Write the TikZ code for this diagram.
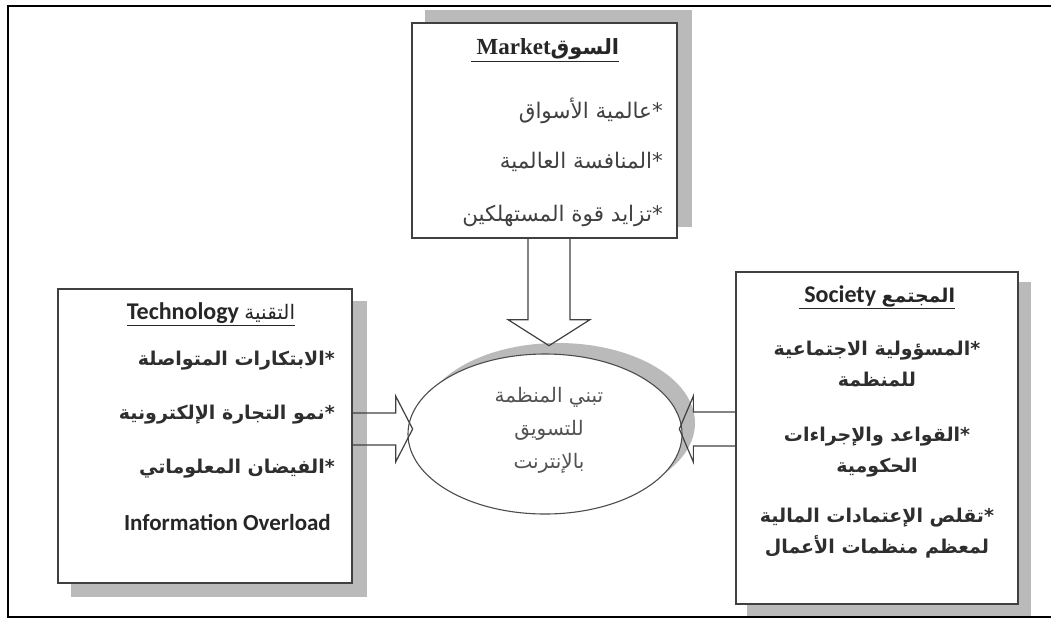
\documentclass[tikz,border=0pt]{standalone}
\usepackage{fontspec}
\usetikzlibrary{calc,backgrounds,shapes.geometric}
\TeXXeTstate=1
\newfontfamily\arfont[Script=Arabic]{DejaVu Sans}
\newfontfamily\calib{Carlito}
\newfontfamily\tms{Liberation Serif}
\begin{document}
\begin{tikzpicture}[x=1pt,y=-1pt,
  box/.style={draw=black!75, line width=1.3pt, fill=white, inner sep=0pt},
  shad/.style={fill=black!27, draw=none},
  barrow/.style={draw=black!75, line width=1.2pt, line join=miter},
  artxt/.style={font=\arfont\fontsize{21.5}{31}\selectfont, text=black!75, inner sep=0pt, align=center},
  arbold/.style={font=\arfont\bfseries\fontsize{19}{31}\selectfont, text=black!82, inner sep=0pt, align=center},
  eltxt/.style={font=\arfont\fontsize{20}{33}\selectfont, text=black!68, inner sep=0pt, align=center},
  titletxt/.style={inner sep=0pt, text=black!85}
]
\useasboundingbox (0,0) rectangle (1051,619);
% outer frame
\draw[line width=2pt] (1051,6) -- (8,6) -- (8,617) -- (1051,617);

% boxes
\node[box, minimum width=265, minimum height=215] (mkt) at (544.5,130.5) {};
\node[box, minimum width=294, minimum height=294] (tech) at (205,436) {};
\node[box, minimum width=282, minimum height=332] (soc) at (877,438) {};
\node[box, draw=black!70, line width=1.1pt, ellipse, minimum width=274, minimum height=160] (org) at (545,434) {};

% shadows
\begin{scope}[on background layer]
  \fill[shad] ($(mkt.north west)+(14,-12)$) rectangle ($(mkt.south east)+(14,-12)$);
  \fill[shad] ($(tech.north west)+(14,13)$) rectangle ($(tech.south east)+(14,13)$);
  \fill[shad] ($(soc.north west)+(12,11)$) rectangle ($(soc.south east)+(12,11)$);
  \fill[shad] ($(org.center)+(13,-11)$) ellipse [x radius=137, y radius=80];
\end{scope}

% block arrows
\coordinate (dA) at ($(mkt.south)+(4.5,0)$);
\draw[barrow] ($(dA)+(-21,0)$) -- ($(dA)+(-21,81)$) -- ($(dA)+(-41,81)$) -- ($(dA)+(0,107)$)
  -- ($(dA)+(41,81)$) -- ($(dA)+(21,81)$) -- ($(dA)+(21,0)$);
\coordinate (lA) at ($(tech.east)+(0,-7)$);
\draw[barrow] ($(lA)+(0,-16)$) -- ($(lA)+(43,-16)$) -- ($(lA)+(43,-33)$) -- ($(lA)+(60,0)$)
  -- ($(lA)+(43,33)$) -- ($(lA)+(43,16)$) -- ($(lA)+(0,16)$);
\coordinate (rA) at ($(soc.west)+(0,-9)$);
\draw[barrow] ($(rA)+(0,-17)$) -- ($(rA)+(-42,-17)$) -- ($(rA)+(-42,-33)$) -- ($(rA)+(-56,0)$)
  -- ($(rA)+(-42,33)$) -- ($(rA)+(-42,17)$) -- ($(rA)+(0,17)$);

% Market text
\node[titletxt] (mt) at (545,50) {\underline{\hbox{\tms\bfseries\fontsize{23}{26}\selectfont\ Market\arfont\fontsize{21}{26}\selectfont\beginR السوق\endR}}};
\node[artxt, anchor=east] (m1) at (663,111) {\beginR *عالمية الأسواق\endR};
\node[artxt, anchor=east] (m2) at (663,162) {\beginR *المنافسة العالمية\endR};
\node[artxt, anchor=east] (m3) at (663,216) {\beginR *تزايد قوة المستهلكين\endR};

% Technology text
\node[titletxt] (tt) at (211,314) {\underline{\hbox{\calib\bfseries\fontsize{24}{26}\selectfont Technology \arfont\mdseries\fontsize{20}{26}\selectfont\beginR التقنية\endR}}};
\node[arbold, anchor=east] (t1) at (335,361) {\beginR *الابتكارات المتواصلة\endR};
\node[arbold, anchor=east] (t2) at (335,415) {\beginR *نمو التجارة الإلكترونية\endR};
\node[arbold, anchor=east] (t3) at (335,469) {\beginR *الفيضان المعلوماتي\endR};
\node[titletxt, font=\calib\bfseries\fontsize{23}{26}\selectfont, anchor=east] (t4) at (331,522) {Information Overload};

% Society text
\node[titletxt] (st) at (877,297) {\underline{\hbox{\calib\bfseries\fontsize{24}{26}\selectfont\ Society \arfont\fontsize{19}{26}\selectfont\beginR المجتمع\endR}}};
\node[arbold] (s1) at (877,364) {\beginR *المسؤولية الاجتماعية\endR\\\beginR للمنظمة\endR};
\node[arbold] (s2) at (877,452) {\beginR *القواعد والإجراءات\endR\\\beginR الحكومية\endR};
\node[arbold] (s3) at (877,533) {\beginR *تقلص الإعتمادات المالية\endR\\\beginR لمعظم منظمات الأعمال\endR};

% ellipse text
\node[eltxt] (ot) at (549,430) {\beginR تبني المنظمة\endR\\\beginR للتسويق\endR\\\beginR بالإنترنت\endR};
\end{tikzpicture}
\end{document}
